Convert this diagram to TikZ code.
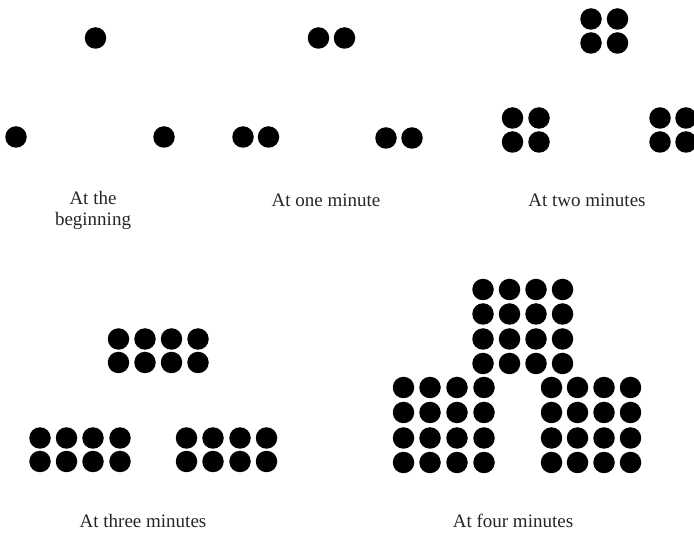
\documentclass[tikz,border=0pt]{standalone}
\usepackage{fontspec}
\setmainfont{Liberation Serif}
\begin{document}
\begin{tikzpicture}[x=1pt,y=-1pt,
  dot/.style={circle,fill=black,inner sep=0pt,minimum size=21.5pt},
  caption/.style={font=\fontsize{19}{21}\selectfont,text=black!85,align=center,inner sep=0pt}]
\useasboundingbox[fill=white] (0,0) rectangle (694,534);
% At the beginning
\node[dot] (b1) at (95.5,38) {};
\node[dot] (b2) at (16,137) {};
\node[dot] (b3) at (164,137) {};
% At one minute
\foreach \x [count=\k] in {318.5,344.5} \node[dot] (o1-\k) at (\x,38) {};
\foreach \x [count=\k] in {243,268.5} \node[dot] (o2-\k) at (\x,137) {};
\foreach \x [count=\k] in {386,412} \node[dot] (o3-\k) at (\x,138) {};
% At two minutes
\foreach \x [count=\k] in {591,617.5} \foreach \y [count=\l] in {19,43} \node[dot] (t1-\k-\l) at (\x,\y) {};
\foreach \x [count=\k] in {512.5,539} \foreach \y [count=\l] in {118,142} \node[dot] (t2-\k-\l) at (\x,\y) {};
\foreach \x [count=\k] in {660,686} \foreach \y [count=\l] in {118,142} \node[dot] (t3-\k-\l) at (\x,\y) {};
% At three minutes
\foreach \x [count=\k] in {118.5,145,171.5,198} \foreach \y [count=\l] in {339,362.5} \node[dot] (h1-\k-\l) at (\x,\y) {};
\foreach \x [count=\k] in {40,66.5,93,120} \foreach \y [count=\l] in {438,461.5} \node[dot] (h2-\k-\l) at (\x,\y) {};
\foreach \x [count=\k] in {186.5,213,240,266.5} \foreach \y [count=\l] in {438,461.5} \node[dot] (h3-\k-\l) at (\x,\y) {};
% At four minutes
\foreach \x [count=\k] in {483,509.5,536,562.5} \foreach \y [count=\l] in {289.5,314,339,363.5} \node[dot] (f1-\k-\l) at (\x,\y) {};
\foreach \x [count=\k] in {403.5,430,457,484} \foreach \y [count=\l] in {387.5,412.5,438,462.5} \node[dot] (f2-\k-\l) at (\x,\y) {};
\foreach \x [count=\k] in {551.5,577.5,604,630.5} \foreach \y [count=\l] in {387.5,412.5,438,462.5} \node[dot] (f3-\k-\l) at (\x,\y) {};
% captions
\node[caption] (c0) at (93,210.5) {At the\\beginning};
\node[caption] (c1) at (326,200) {At one minute};
\node[caption] (c2) at (587,200) {At two minutes};
\node[caption] (c3) at (143,521) {At three minutes};
\node[caption] (c4) at (513,521) {At four minutes};
\end{tikzpicture}
\end{document}
